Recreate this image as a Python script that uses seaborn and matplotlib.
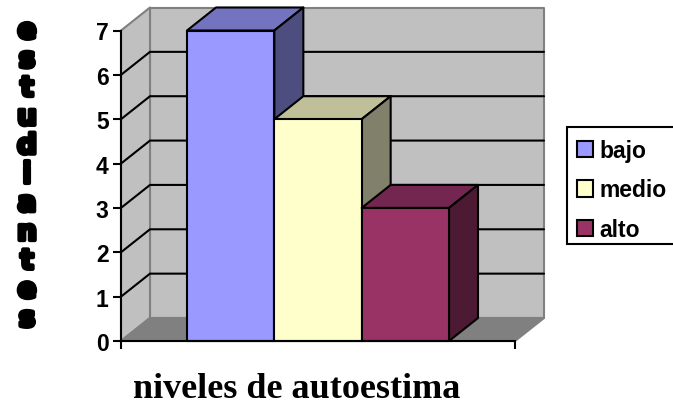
import pandas as pd
import matplotlib.pyplot as plt
import matplotlib.patheffects as pe
import seaborn as sns
from matplotlib.patches import Patch, Polygon, Rectangle

# Data

niveles = ["bajo", "medio", "alto"]
estudiantes = [7, 5, 3]
y_ticks = [0, 1, 2, 3, 4, 5, 6, 7]

colores = ["#9999FF", "#FFFFCC", "#993366"]
colores_top = ["#7373BF", "#BFBF99", "#732650"]
colores_lado = ["#4D4D80", "#80806B", "#4D1A33"]

df = pd.DataFrame({"grupo": ["a"] * 3, "nivel": niveles, "estudiantes": estudiantes})

W, H = 673, 410

sns.set_theme(style="white")
plt.rcParams["font.family"] = ["Liberation Sans", "DejaVu Sans"]

fig = plt.figure(figsize=(W / 100, H / 100), dpi=100)
ax = fig.add_axes([121 / W, 1 - 342 / H, 394 / W, 310.5 / H])

sns.barplot(
    data=df, x="grupo", y="estudiantes", hue="nivel", hue_order=niveles,
    palette=colores, width=262 / 394, edgecolor="black", linewidth=1.5,
    saturation=1, legend=False, ax=ax, zorder=5, clip_on=False,
)
ax.set_xlim(-0.5, 0.5)
ax.set_ylim(0, 7)

# Depth of the fake 3D box, in data units
dx = 29 / 394
dy = 23 / (310.5 / 7)
x0, x1 = ax.get_xlim()
ymax = y_ticks[-1]


def face(points, color, edge, z, lw=1.5):
    ax.add_patch(Polygon(points, closed=True, facecolor=color, edgecolor=edge,
                         linewidth=lw, zorder=z, clip_on=False, joinstyle="round"))


# Walls and floor
face([(x0 + dx, dy), (x1 + dx, dy), (x1 + dx, ymax + dy), (x0 + dx, ymax + dy)], "#C0C0C0", "#808080", 1)
face([(x0, 0), (x0 + dx, dy), (x0 + dx, ymax + dy), (x0, ymax)], "#C0C0C0", "#808080", 1)
face([(x0, 0), (x1, 0), (x1 + dx, dy), (x0 + dx, dy)], "#808080", "#808080", 1.5)

# Grid on both walls
for v in y_ticks[1:-1]:
    ax.plot([x0, x0 + dx, x1 + dx], [v, v + dy, v + dy], color="black", lw=1.5,
            zorder=2, clip_on=False, solid_joinstyle="miter")

# Top and side of each bar, left to right
for i, bar in enumerate(ax.patches[:3]):
    xa = bar.get_x()
    xb = xa + bar.get_width()
    h = bar.get_height()
    z = 3 + i * 0.1
    face([(xa, h), (xa + dx, h + dy), (xb + dx, h + dy), (xb, h)], colores_top[i], "black", z)
    face([(xb, 0), (xb + dx, dy), (xb + dx, h + dy), (xb, h)], colores_lado[i], "black", z)
    bar.set_zorder(z + 0.05)

# Axes
sns.despine(ax=ax)
for s in ["left", "bottom"]:
    ax.spines[s].set_linewidth(1.5)
    ax.spines[s].set_color("black")
    ax.spines[s].set_zorder(6)
ax.set_yticks(y_ticks)
ax.set_xticks([x0, x1])
ax.set_xticklabels([])
ax.tick_params(axis="both", length=6, width=1.5, color="black", left=True, bottom=True)
ax.tick_params(axis="y", labelsize=16.5, pad=3, labelcolor="black")
for t in ax.get_yticklabels():
    t.set_fontweight("bold")
ax.set_xlabel("")
ax.set_ylabel("")

# Stacked heavy y title and serif x title
for i, letra in enumerate("estudiantes"):
    fig.text(27 / W, 1 - (39.5 + i * 28.8) / H, letra, ha="center", va="baseline",
             family="DejaVu Sans", fontsize=20, fontweight="bold", color="black",
             path_effects=[pe.withStroke(linewidth=3, foreground="black")])
fig.text(296.5 / W, 1 - 398 / H, "niveles de autoestima", ha="center", va="baseline",
         family="Liberation Serif", fontsize=26, fontweight="bold", color="black")

# Legend, its box runs off the right edge
fig.add_artist(Rectangle((567 / W, 1 - 245 / H), 120 / W, 117 / H, transform=fig.transFigure,
                         facecolor="white", edgecolor="black", linewidth=1.5, zorder=1))
handles = [Patch(facecolor=c, edgecolor="black", linewidth=1.5, label=n) for c, n in zip(colores, niveles)]
leg = fig.legend(
    handles=handles, loc="upper left", bbox_to_anchor=(570 / W, 1 - 133 / H),
    borderaxespad=0, frameon=False, labelcolor="black",
    prop={"weight": "bold", "size": 16.5}, handlelength=0.72, handleheight=0.72,
    handletextpad=0.26, labelspacing=0.72, borderpad=0.30,
)
leg.set_zorder(5)

fig.savefig("out.png", dpi=100)
